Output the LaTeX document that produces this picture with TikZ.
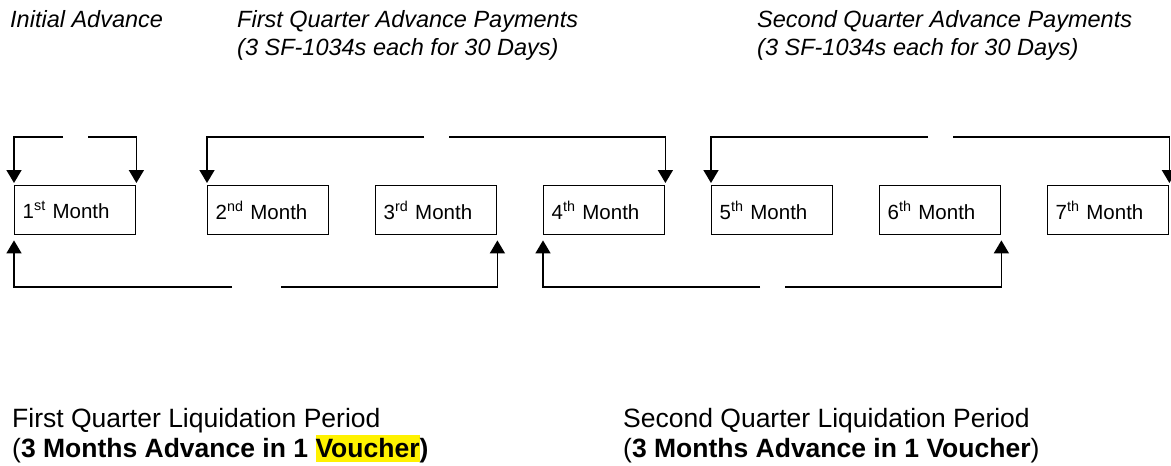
\documentclass[tikz,border=0pt]{standalone}
\usepackage{fontspec}
\setmainfont{Liberation Sans}
\usepackage{xcolor}
\usetikzlibrary{arrows.meta, positioning}

\tikzset{
  month/.style={draw, line width=1.4pt, anchor=north west, minimum height=49pt,
    text width=105pt, inner xsep=8pt, align=left, font=\fontsize{20.5}{24}\selectfont},
  flow/.style={line width=1.6pt, -{Triangle[width=15pt,length=13pt]}},
  topnote/.style={anchor=north west, inner sep=0pt, align=left,
    font=\fontsize{23.5}{28}\selectfont\itshape},
  botnote/.style={anchor=north west, inner sep=0pt, align=left,
    font=\fontsize{26.5}{30.5}\selectfont},
}
\newcommand{\hilite}[1]{{\setlength{\fboxsep}{0pt}\colorbox{yellow}{\rule[-4pt]{0pt}{27pt}#1}}}

\begin{document}
\begin{tikzpicture}[x=1pt, y=-1pt]
        \useasboundingbox (0,0) rectangle (1171,466);
        % month boxes
        \node[month] (m1) at (14,185) {1\textsuperscript{st} Month};
        \node[month] (m2) [right=70.6pt of m1] {2\textsuperscript{nd} Month};
        \node[month] (m3) [right=45.6pt of m2] {3\textsuperscript{rd} Month};
        \node[month] (m4) [right=45.6pt of m3] {4\textsuperscript{th} Month};
        \node[month] (m5) [right=45.6pt of m4] {5\textsuperscript{th} Month};
        \node[month] (m6) [right=45.6pt of m5] {6\textsuperscript{th} Month};
        \node[month] (m7) [right=45.6pt of m6] {7\textsuperscript{th} Month};
        % gaps in the connectors
        \coordinate (t1a) at (63,137);
        \coordinate (t1b) at (88,137);
        \coordinate (t2a) at (424,137);
        \coordinate (t2b) at (449,137);
        \coordinate (t3a) at (928,137);
        \coordinate (t3b) at (953,137);
        \coordinate (b1a) at (232,287);
        \coordinate (b1b) at (281,287);
        \coordinate (b2a) at (760,287);
        \coordinate (b2b) at (785,287);
        % advance payments
        \draw[flow, shorten >=2pt] (t1a) -| (m1.north west);
        \draw[flow, shorten >=2pt] (t1b) -| (m1.north east);
        \draw[flow, shorten >=2pt] (t2a) -| (m2.north west);
        \draw[flow, shorten >=2pt] (t2b) -| (m4.north east);
        \draw[flow, shorten >=2pt] (t3a) -| (m5.north west);
        \draw[flow, shorten >=2pt] (t3b) -| (m7.north east);
        % liquidation periods
        \draw[flow, shorten >=5pt] (b1a) -| (m1.south west);
        \draw[flow, shorten >=5pt] (b1b) -| (m3.south east);
        \draw[flow, shorten >=5pt] (b2a) -| (m4.south west);
        \draw[flow, shorten >=5pt] (b2b) -| (m6.south east);
        % labels
        \node[topnote] (init) at (10,10) {Initial Advance};
        \node[topnote] (q1pay) at (237,10) {First Quarter Advance Payments\\(3 SF-1034s each for 30 Days)};
        \node[topnote] (q2pay) at (757,10) {Second Quarter Advance Payments\\(3 SF-1034s each for 30 Days)};
        \node[botnote] (q1liq) at (12,408) {First Quarter Liquidation Period\\(\textbf{3 Months Advance in 1 \hilite{Voucher})}};
        \node[botnote] (q2liq) at (623,408) {Second Quarter Liquidation Period\\(\textbf{3 Months Advance in 1 Voucher})};
    \end{tikzpicture}
\end{document}
